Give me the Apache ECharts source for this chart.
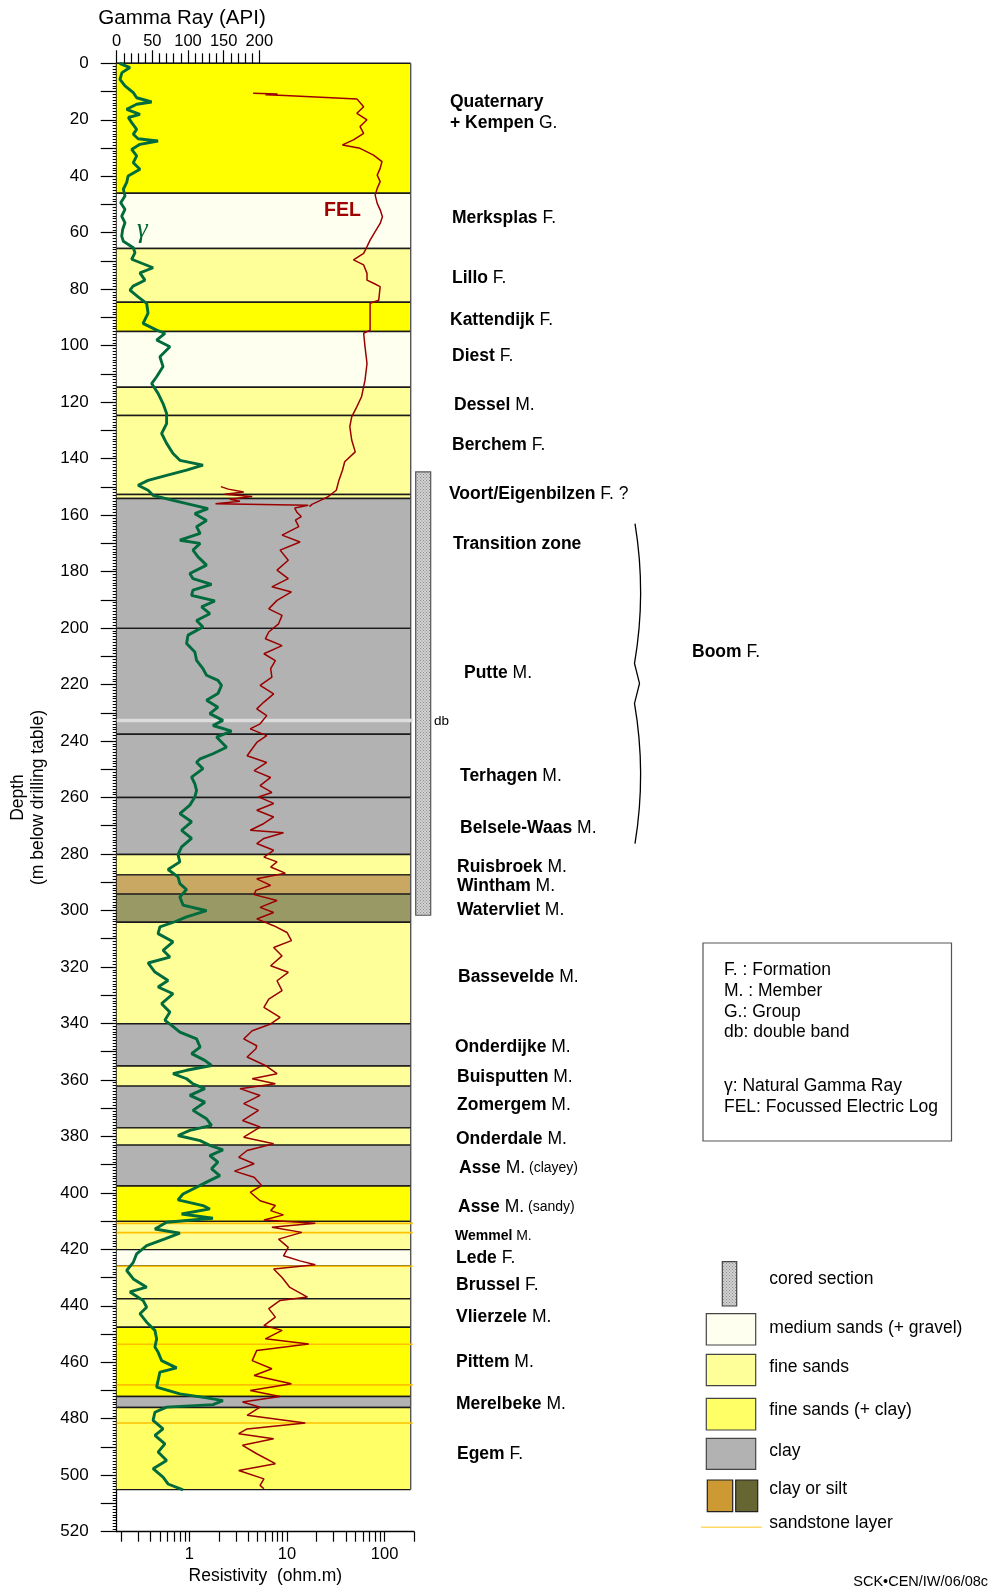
<!DOCTYPE html>
<html><head><meta charset="utf-8">
<script src="https://cdn.jsdelivr.net/npm/echarts@6/dist/echarts.min.js"></script>
<style>html,body{margin:0;padding:0;background:#fff}#c{width:993px;height:1586px}</style>
</head><body><div id="c"></div>
<script>
// ---------------- DATA ----------------
// Lithological column (depth in m below drilling table)
const layerTop    = [0, 46, 65.6, 84.6, 95, 114.7, 124.7, 152.7, 154.1, 200.1, 237.6, 260, 280.2, 287.4, 294.2, 304.2, 340.1, 355.1, 362.2, 377, 383.1, 397.6, 410.1, 420.1, 426, 437.5, 447.6, 472.1, 476];
const layerBottom = [46, 65.6, 84.6, 95, 114.7, 124.7, 152.7, 154.1, 200.1, 237.6, 260, 280.2, 287.4, 294.2, 304.2, 340.1, 355.1, 362.2, 377, 383.1, 397.6, 410.1, 420.1, 426, 437.5, 447.6, 472.1, 476, 505.1];
const layerLitho  = ['bright','medium','fine','bright','medium','fine','fine','fine','clay','clay','clay','clay','fine','tan','olive','fine','clay','fine','clay','fine','clay','bright','fine','medium','fine','fine','bright','clay','fineClay'];
const doubleBandDepth = [232.7];
const sandstoneDepth = [410.8, 414.1, 426.0, 453.6, 468.0, 481.5];
const coredTop = 144.7, coredBottom = 301.7;

// Formation / member labels
const labelDepth  = [13.7, 21.3, 54.9, 76.1, 91.1, 103.7, 120.9, 135.2, 152.7, 170.3, 215.8, 252.3, 270.9, 284.6, 291.4, 300.0, 323.6, 348.3, 359.1, 369.1, 380.9, 391.3, 404.9, 415.3, 423.2, 432.8, 443.9, 460.1, 474.7, 492.7, 208.6];
const labelBold   = ['Quaternary','+ Kempen','Merksplas','Lillo','Kattendijk','Diest','Dessel','Berchem','Voort/Eigenbilzen','Transition zone','Putte','Terhagen','Belsele-Waas','Ruisbroek','Wintham','Watervliet','Bassevelde','Onderdijke','Buisputten','Zomergem','Onderdale','Asse','Asse','Wemmel','Lede','Brussel','Vlierzele','Pittem','Merelbeke','Egem','Boom'];
const labelNormal = ['','G.','F.','F.','F.','F.','M.','F.','F. ?','','M.','M.','M.','M.','M.','M.','M.','M.','M.','M.','M.','M.','M.','M.','F.','F.','M.','M.','M.','F.','F.'];
const labelSmall  = ['','','','','','','','','','','','','','','','','','','','','','(clayey)','(sandy)','','','','','','','',''];
// layout (not data): left x of each label and its font size
const labelX      = [450,450,452,452,450,452,454,452,449,453,464,460,460,457,457,457,458,455,457,457,456,459,458,455,456,456,456,456,456,457,692];
const labelSize   = [17.5,17.5,17.5,17.5,17.5,17.5,17.5,17.5,17.5,17.5,17.5,17.5,17.5,17.5,17.5,17.5,17.5,17.5,17.5,17.5,17.5,17.5,17.5,14,17.5,17.5,17.5,17.5,17.5,17.5,17.5];

// Boom F. brace
const braceTop = 163.0, braceTip = 219.6, braceBottom = 276.3;

// Natural gamma ray log (API) vs depth (m)
const gammaDepth = [0,1.5,3.3,5.7,8,10.4,12.2,13.7,14.5,16.3,18.1,19.2,21,23.4,25.1,26.7,27.5,28.7,30.5,32.8,35.2,37.5,39.9,42.2,44.6,47,49.4,51.7,54.1,56.5,58.8,61.2,63,65.3,67.1,69.4,72.4,74.2,76.8,78.9,80.3,82.7,85,88.5,92.1,94.5,95.6,98,100.4,103.9,107.4,111,113.4,116.9,120.5,124,127.6,131.1,134.6,138.2,140.6,142.3,144.1,145.9,147.7,149.4,151.2,153,154.8,157.7,159.5,161.9,164.1,166.5,168.9,170,172.4,174.8,177.7,180.7,182.5,184.5,186.6,188.4,190.4,192.5,194.9,197.3,199.6,202.5,205.5,208.5,211.4,214.4,216.7,218.5,220.3,223.2,225.6,228,230.3,232.7,234.5,236.5,238.6,242.2,244.5,246.3,247.5,249.8,252.8,255.2,257.5,259.8,262.7,265.7,268.6,271.6,274.5,277.5,280.2,282.8,285.5,288.1,290.5,292.6,295.2,298.1,300.1,302.3,304,305.8,308.2,311.1,314.1,316.5,318.6,321.8,324.8,327.1,329.5,333,336,338.9,340.7,343.1,345.5,348.4,350.7,353.1,354.9,356.6,357.8,359.6,361.4,363.1,365.5,367.9,370.8,373.8,376.1,377.9,379.7,381.5,383.2,384.8,386.8,389.1,391.5,393.9,396.2,398,400.4,402.5,404.5,405.7,407.5,409,410.4,412.8,414.3,416.3,418.7,421.6,424.6,427.5,430.5,433.4,435.1,438.1,440.5,442.8,445.8,448.7,451.7,454.6,456.4,459.4,462,463.5,466.5,468.8,471.2,472.6,473.6,475,475.9,477.7,480.6,483.6,485.9,488.9,491.8,494.8,497.7,500.7,503.1,505.2];
const gammaAPI   = [4,18.6,7.4,4.6,11.6,23.3,28,49,28,14,32.6,16.3,21,28,23.3,30,58,32.6,21,28,23.3,32.6,16,14,9.3,11.6,5.6,11.6,7,11.6,8.4,7,9.3,23.3,25.6,21,51,32.6,39.6,23,18.6,30,42,44,37,56,67.6,56,74.6,60.6,65,56,49,58,65,70,70,63,70,79,88.6,121,98,70,44,30,44,51,79,128,109.6,126,112,117,88.6,117,107,114,126,102.6,107,133,107,105,137.6,119,130.6,112,121,100,98,109.6,112,121,126,142,147,142,126,142,130.6,149,135,161,140,154,135,117,112,121,105,109.6,112,109.6,102.6,88.6,105,91,105,91,86,88.6,72,86,88.6,98,88.6,93,126,98,81.6,60.6,58,79,65,74.6,44,53.6,72,58,79,63,74.6,67.6,77,88.6,112,117,105,123.6,133,98,79,98,107,123.6,102.6,123.6,107,126,133,102.6,86,117,130.6,149,130.6,142,133,144.6,126,112,93,86,121,130.6,91,135,70,53.6,88.6,67.6,42,28,23.3,14,23.3,42,18.6,37,42,32.6,42,53.6,56,53.6,58,63,84,60.6,58,56,88.6,126.6,149,135,70,53.6,51,65,53.6,67.6,58,70,51,65,72,93];

// Focussed electric log (ohm.m): upper run and lower run
const felUpperDepth = [10.6,10.9,11.1,11.4,12.6,15.4,17.7,20.0,22.4,24.8,27.1,28.9,30.1,32.5,34.8,37.2,39.6,41.9,44.3,46.7,49.6,51.9,54.3,56.7,59.6,62.6,64.9,67.3,69.6,71.4,74.4,76.8,77.9,79.1,83.9,85,94.5,95.6,100.4,106.3,112.2,118.1,121.6,125.2,128.7,133.4,137.6,141.1,144.1,147.7,151.2,153.6,154.8,156.2,157.0];
const felUpperR     = [4.5,8,6,9.5,52,61,52,66,56,61,48,37,56,77,94,90,84,90,84,80,84,90,95,90,80,71,66,61,48,61,66,66,77,90,87,71,71,61,63,66,63,58,52,46,44,46,50,39,37,34,32,26,22,18,17];
const felLowerDepth = [149.9,150.8,151.8,152.6,153.4,154.4,155.1,156.0,156.5,157.5,159.1,160.5,161.8,164.1,167.1,169.5,172.4,176,179.5,182.5,185.4,187.2,190.2,193.2,195.5,198.5,201.4,203.8,206.2,209.1,211.5,214.4,217.4,220.3,223.3,226.2,228.6,231,233.9,235.7,238.1,240.5,245.2,247.6,250.5,252.9,255.8,258.2,259.8,262.1,264.5,266.9,269.2,271.6,272.5,274.5,276.3,278.7,281.1,282.8,284.6,286.8,288.8,291.1,292.9,294.4,296.5,298.9,300.7,303,305.4,307.8,310.7,313.1,316.1,319.6,321.9,324.9,328.4,331.4,334.3,337.9,340.2,342.6,345.5,347.9,349,351.9,354.9,357.8,359.6,361.4,363.1,365.5,368.4,370.8,374.4,376.7,380.3,382.6,385,387.4,389.7,392.3,394.5,397.4,399.8,402.8,404.5,406.3,407.8,409.6,410.8,412.2,414,416.4,419.3,422.3,424.1,425.5,427,430,433.5,436.9,438.1,441,444,447,448.7,451.7,453.5,455.8,459.4,462.3,464.7,467.6,470,472.1,474.1,475.9,478.8,481.5,483.6,485.3,487.1,489.4,492.4,495.9,498.3,501.3,503.6,504.8];
const felLowerR     = [2.1,2.5,3.6,2.3,4.4,2.6,3.3,1.85,16.5,12,12.7,14,12.2,13.2,8.9,13.6,8.5,10.3,7.9,10.3,7.0,11.1,7.9,6.5,8.9,8.2,6.5,6.0,8.9,5.8,7.6,6.8,7.0,5.3,7.3,5.8,4.9,6.2,5.3,4.2,6.2,4.9,3.9,6.2,4.6,6.8,5.3,7.0,5.1,7.3,4.9,7.3,5.8,4.2,9.2,5.8,4.9,7.3,5.8,7.9,6.8,9.6,4.9,6.8,4.8,4.6,7.9,5.3,7.3,4.9,7.3,10,11.1,7.3,8.9,6.8,10.3,7.9,8.9,6.5,5.8,8.5,6.8,4.4,3.6,4.9,4.8,3.9,6,7.9,4.4,7.6,3.3,5.3,3.6,5.1,3.5,5.3,3.6,7.3,3.9,3.2,4.6,2.9,4.6,5.5,4.2,5.3,7.6,6.8,9.2,5.8,19.5,7.0,14.2,8.2,10.3,9.2,13.6,19.5,7.3,8.9,10.7,16.2,8.5,6.5,7.6,5.8,8.9,6.0,16.7,4.9,4.4,7.0,4.6,11.1,4.2,8.5,3.5,5.3,3.9,15.4,3.9,3.2,7.3,3.5,4.9,7.6,3.2,5.8,5.3,5.8];

// Axis ticks
const resTicks  = [0.2,0.3,0.4,0.5,0.6,0.7,0.8,0.9,1,2,3,4,5,6,7,8,9,10,20,30,40,50,60,70,80,90,100,200];
const resLabels = [1,10,100];

// ---------------- STYLE ----------------
const FONT = '"Liberation Sans", Arial, sans-serif';
const LITHO = {bright:'#FFFF00', fineClay:'#FFFF66', fine:'#FFFF99', medium:'#FFFFEF', clay:'#B2B2B2', tan:'#C8A862', olive:'#999966'};
const GRID_L = 116.7, GRID_T = 63.3, GRID_H = 1468.4;
const COLUMN_W = 294;

const pc = document.createElement('canvas'); pc.width = 3; pc.height = 3;
(function(){ const c = pc.getContext('2d'); c.fillStyle = '#D2D2D2'; c.fillRect(0,0,3,3); c.fillStyle = '#8C8C8C'; c.fillRect(0,0,1,1); c.fillRect(1.5,1.5,1,1); })();
const dotted = {image: pc, repeat: 'repeat'};

const chart = echarts.init(document.getElementById('c'), null, {renderer: 'canvas'});

const yAt = (api, d) => api.coord([1, d])[1];

const option = {
  animation: false,
  backgroundColor: '#fff',
  grid: [
    {left: GRID_L, top: GRID_T, width: 297.3, height: GRID_H, containLabel: false, outerBoundsMode: 'none'},
    {left: GRID_L, top: GRID_T, width: 142.6, height: GRID_H, containLabel: false, outerBoundsMode: 'none'}
  ],
  xAxis: [
    {type: 'log', gridIndex: 0, position: 'bottom', min: 0.18, max: 200, logBase: 10,
     axisLine: {onZero: false, lineStyle: {color: '#000', width: 1.3}},
     axisTick: {show: true, customValues: resTicks, length: 10, lineStyle: {color: '#000', width: 1.2}},
     axisLabel: {customValues: resLabels, color: '#000', fontSize: 16.5, fontFamily: FONT, margin: 14},
     splitLine: {show: false}, minorTick: {show: false},
     name: 'Resistivity  (ohm.m)', nameLocation: 'middle', nameGap: 33,
     nameTextStyle: {color: '#000', fontSize: 17.5, fontFamily: FONT}},
    {type: 'value', gridIndex: 1, position: 'top', min: 0, max: 200, interval: 50,
     axisLine: {onZero: false, lineStyle: {color: '#000', width: 1.3}},
     axisTick: {length: 13, lineStyle: {color: '#000', width: 1.2}},
     minorTick: {show: true, splitNumber: 5, length: 10, lineStyle: {color: '#000', width: 1.2}},
     axisLabel: {color: '#000', fontSize: 16.5, fontFamily: FONT, margin: 13},
     splitLine: {show: false},
     name: 'Gamma Ray (API)', nameLocation: 'middle', nameGap: 34,
     nameTextStyle: {color: '#000', fontSize: 20.5, fontFamily: FONT, padding: [0, 12, 0, 0]}},
    {type: 'value', gridIndex: 1, position: 'top', min: 0, max: 200, interval: 50,
     axisLine: {show: false, onZero: false}, axisLabel: {show: false}, splitLine: {show: false},
     axisTick: {inside: true, length: 13, lineStyle: {color: '#000', width: 1.2}}}
  ],
  yAxis: [
    {type: 'value', gridIndex: 0, inverse: true, min: 0, max: 520, interval: 10,
     axisLine: {show: true, onZero: false, lineStyle: {color: '#000', width: 1.3}},
     axisTick: {show: true, length: 16, lineStyle: {color: '#000', width: 1.2}},
     minorTick: {show: true, splitNumber: 10, length: 4, lineStyle: {color: '#000', width: 1}},
     axisLabel: {color: '#000', fontSize: 17, fontFamily: FONT, margin: 28,
                 formatter: v => (v % 20 === 0 ? String(v) : '')},
     splitLine: {show: false},
     name: 'Depth\n(m below drilling table)', nameLocation: 'middle', nameGap: 69,
     nameTextStyle: {color: '#000', fontSize: 17.5, fontFamily: FONT, lineHeight: 20}},
    {type: 'value', gridIndex: 1, inverse: true, min: 0, max: 520, show: false, axisLine: {onZero: false}}
  ],
  series: [
    { // lithological column
      type: 'custom', xAxisIndex: 0, yAxisIndex: 0, z: 1, clip: false,
      encode: {x: 0, y: [1, 2]},
      data: layerTop.map((t, i) => [1, t, layerBottom[i], i]),
      renderItem: (params, api) => {
        const cs = params.coordSys;
        const top = yAt(api, api.value(1)), bot = yAt(api, api.value(2));
        const x0 = cs.x, w = COLUMN_W;
        return {type: 'group', children: [
          {type: 'rect', shape: {x: x0, y: top, width: w, height: bot - top}, style: {fill: LITHO[layerLitho[api.value(3)]]}},
          {type: 'line', shape: {x1: x0, y1: top, x2: x0 + w, y2: top}, style: {stroke: '#1a1a1a', lineWidth: 1.4}},
          {type: 'line', shape: {x1: x0, y1: bot, x2: x0 + w, y2: bot}, style: {stroke: '#1a1a1a', lineWidth: 1.4}},
          {type: 'line', shape: {x1: x0 + w, y1: top, x2: x0 + w, y2: bot}, style: {stroke: '#555', lineWidth: 1.4}}
        ]};
      }
    },
    { // double band
      type: 'custom', xAxisIndex: 0, yAxisIndex: 0, z: 2, clip: false,
      encode: {x: 0, y: 1},
      data: doubleBandDepth.map(d => [1, d]),
      renderItem: (params, api) => {
        const cs = params.coordSys, y = yAt(api, api.value(1));
        return {type: 'line', shape: {x1: cs.x, y1: y, x2: cs.x + COLUMN_W + 2, y2: y}, style: {stroke: '#DCDCDC', lineWidth: 3.5}};
      }
    },
    { // sandstone layers
      type: 'custom', xAxisIndex: 0, yAxisIndex: 0, z: 2, clip: false,
      encode: {x: 0, y: 1},
      data: sandstoneDepth.map(d => [1, d]),
      renderItem: (params, api) => {
        const cs = params.coordSys, y = yAt(api, api.value(1));
        return {type: 'line', shape: {x1: cs.x, y1: y, x2: cs.x + COLUMN_W + 2, y2: y}, style: {stroke: '#FFC000', lineWidth: 1.6}};
      }
    },
    { // cored section
      type: 'custom', xAxisIndex: 0, yAxisIndex: 0, z: 2, clip: false,
      encode: {x: 0, y: [1, 2]},
      data: [[1, coredTop, coredBottom]],
      renderItem: (params, api) => {
        const cs = params.coordSys;
        const t = yAt(api, api.value(1)), b = yAt(api, api.value(2));
        return {type: 'rect', shape: {x: cs.x + COLUMN_W + 5, y: t, width: 15, height: b - t}, style: {fill: dotted, stroke: '#555', lineWidth: 1.2}};
      }
    },
    { // brace for Boom F.
      type: 'custom', xAxisIndex: 0, yAxisIndex: 0, z: 2, clip: false,
      encode: {x: 0, y: [1, 2, 3]},
      data: [[1, braceTop, braceTip, braceBottom]],
      renderItem: (params, api) => {
        const yT = yAt(api, api.value(1)), yM = yAt(api, api.value(2)), yB = yAt(api, api.value(3));
        const x0 = 634.5, k1 = yM - 20, k2 = yM + 20;
        const d = `M ${x0 + 0.5} ${yT} Q ${x0 + 12} ${(yT + k1) / 2} ${x0} ${k1} L ${x0 + 5} ${yM} L ${x0} ${k2} Q ${x0 + 12} ${(k2 + yB) / 2} ${x0 + 0.5} ${yB}`;
        return {type: 'path', shape: {pathData: d}, style: {stroke: '#000', fill: null, lineWidth: 1.3}};
      }
    },
    { // formation labels
      type: 'custom', xAxisIndex: 0, yAxisIndex: 0, z: 4, clip: false,
      encode: {x: 0, y: 1},
      data: labelDepth.map((d, i) => [1, d, i]),
      renderItem: (params, api) => {
        const i = api.value(2), y = yAt(api, api.value(1)), s = labelSize[i];
        let t = '{b|' + labelBold[i] + '}';
        if (labelNormal[i]) t += '{n| ' + labelNormal[i] + '}';
        if (labelSmall[i]) t += '{s| ' + labelSmall[i] + '}';
        return {type: 'text', x: labelX[i], y: y, style: {
          text: t, align: 'left', verticalAlign: 'middle', fill: '#000', fontFamily: FONT, fontSize: s,
          rich: {
            b: {fontWeight: 'bold', fontSize: s, fontFamily: FONT, fill: '#000'},
            n: {fontWeight: 'normal', fontSize: s, fontFamily: FONT, fill: '#000'},
            s: {fontWeight: 'normal', fontSize: 14, fontFamily: FONT, fill: '#000'}
          }}};
      }
    },
    { // annotations: FEL, gamma, db
      type: 'custom', xAxisIndex: 0, yAxisIndex: 0, z: 4, clip: false,
      encode: {x: 0, y: 1},
      data: [[1, 52.3, 0], [1, 59.0, 1], [1, 232.9, 2]],
      renderItem: (params, api) => {
        const i = api.value(2), y = yAt(api, api.value(1));
        const px = [324, 137, 434][i];
        const st = [
          {text: 'FEL', fill: '#A00000', fontSize: 19.5, fontWeight: 'bold', fontFamily: FONT},
          {text: 'γ', fill: '#006633', fontSize: 27, fontWeight: 'normal', fontFamily: '"Liberation Serif", serif', fontStyle: 'italic'},
          {text: 'db', fill: '#000', fontSize: 13.5, fontWeight: 'normal', fontFamily: FONT}
        ][i];
        return {type: 'text', x: px, y: y, style: Object.assign({align: 'left', verticalAlign: 'middle'}, st)};
      }
    },
    { // FEL upper run
      type: 'line', xAxisIndex: 0, yAxisIndex: 0, z: 3, showSymbol: false, symbol: 'none',
      data: felUpperDepth.map((d, i) => [felUpperR[i], d]),
      lineStyle: {color: '#9B0000', width: 1.5}
    },
    { // FEL lower run
      type: 'line', xAxisIndex: 0, yAxisIndex: 0, z: 3, showSymbol: false, symbol: 'none',
      data: felLowerDepth.map((d, i) => [felLowerR[i], d]),
      lineStyle: {color: '#9B0000', width: 1.5}
    },
    { // Gamma ray
      type: 'line', xAxisIndex: 1, yAxisIndex: 1, z: 3, showSymbol: false, symbol: 'none',
      data: gammaDepth.map((d, i) => [gammaAPI[i], d]),
      lineStyle: {color: '#006B3C', width: 2.9}
    }
  ],
  graphic: [
    // abbreviation legend box
    {type: 'rect', shape: {x: 703, y: 943, width: 248.5, height: 198}, style: {fill: '#fff', stroke: '#555', lineWidth: 1.2}, z: 10},
    ...[['F. : Formation', 970], ['M. : Member', 991], ['G.: Group', 1012], ['db: double band', 1032], ['γ: Natural Gamma Ray', 1086], ['FEL: Focussed Electric Log', 1107]].map(([t, y]) => (
      {type: 'text', x: 724, y: y, style: {text: t, fill: '#000', fontSize: 17.5, fontFamily: FONT, verticalAlign: 'middle'}, z: 11})),
    // lithology legend
    {type: 'rect', shape: {x: 722.3, y: 1261.7, width: 14.4, height: 44.3}, style: {fill: dotted, stroke: '#444', lineWidth: 1.2}, z: 10},
    {type: 'rect', shape: {x: 706.3, y: 1313.7, width: 49.4, height: 31.3}, style: {fill: LITHO.medium, stroke: '#444', lineWidth: 1.2}, z: 10},
    {type: 'rect', shape: {x: 706.3, y: 1354.3, width: 49.4, height: 31.4}, style: {fill: LITHO.fine, stroke: '#444', lineWidth: 1.2}, z: 10},
    {type: 'rect', shape: {x: 706.3, y: 1398.3, width: 49.4, height: 31.7}, style: {fill: LITHO.fineClay, stroke: '#444', lineWidth: 1.2}, z: 10},
    {type: 'rect', shape: {x: 706.3, y: 1438.3, width: 49.4, height: 31}, style: {fill: LITHO.clay, stroke: '#444', lineWidth: 1.2}, z: 10},
    {type: 'rect', shape: {x: 707.3, y: 1480, width: 25.4, height: 31.7}, style: {fill: '#CC9933', stroke: '#222', lineWidth: 1.2}, z: 10},
    {type: 'rect', shape: {x: 735.7, y: 1480, width: 22, height: 31.7}, style: {fill: '#666633', stroke: '#222', lineWidth: 1.2}, z: 10},
    {type: 'line', shape: {x1: 701, y1: 1527.3, x2: 761.7, y2: 1527.3}, style: {stroke: '#FFD966', lineWidth: 1.6}, z: 10},
    ...[['cored section', 1279.3], ['medium sands (+ gravel)', 1327.7], ['fine sands', 1366.7], ['fine sands (+ clay)', 1410], ['clay', 1451], ['clay or silt', 1489.3], ['sandstone layer', 1523.3]].map(([t, y]) => (
      {type: 'text', x: 769.3, y: y, style: {text: t, fill: '#000', fontSize: 17.5, fontFamily: FONT, verticalAlign: 'middle'}, z: 11})),
    {type: 'text', x: 853.3, y: 1582, style: {text: 'SCK•CEN/IW/06/08c', fill: '#000', fontSize: 14.5, fontFamily: FONT, verticalAlign: 'middle'}, z: 11}
  ]
};
chart.setOption(option);
</script></body></html>
